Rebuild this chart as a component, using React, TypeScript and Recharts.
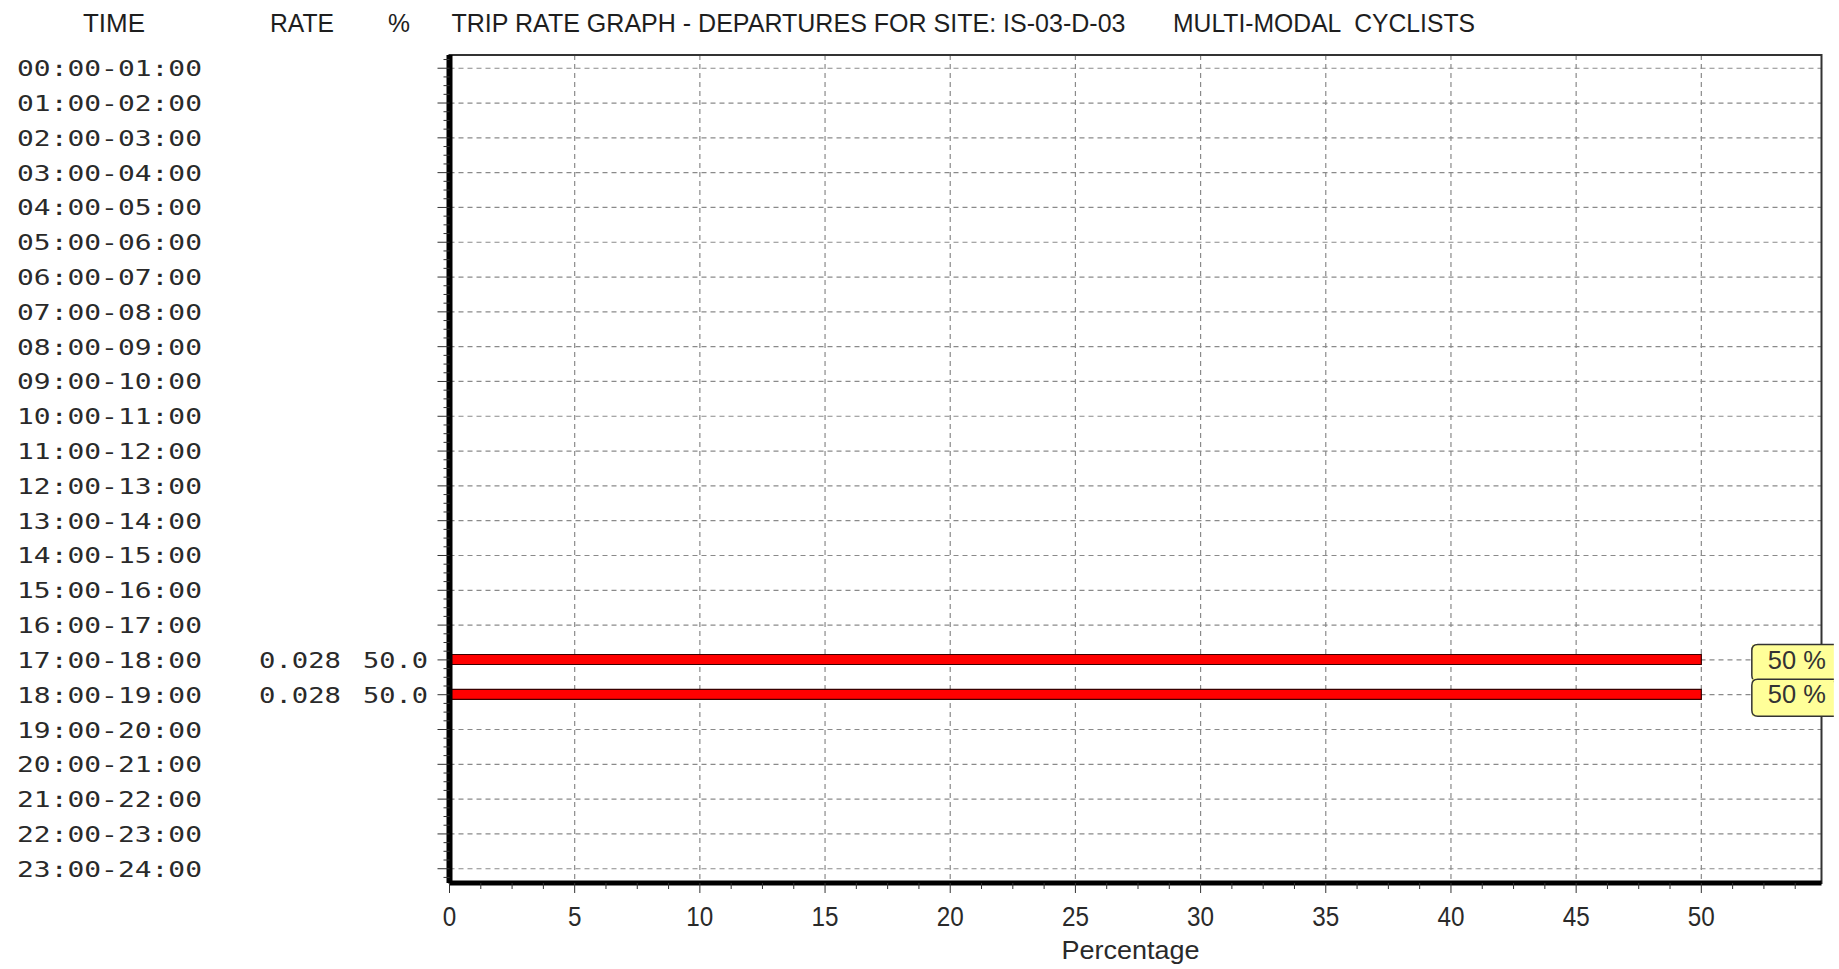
import { Bar, BarChart, CartesianGrid, LabelList, ReferenceArea, XAxis, YAxis } from "recharts";

const timeLabels = [
    "00:00-01:00", "01:00-02:00", "02:00-03:00", "03:00-04:00",
    "04:00-05:00", "05:00-06:00", "06:00-07:00", "07:00-08:00",
    "08:00-09:00", "09:00-10:00", "10:00-11:00", "11:00-12:00",
    "12:00-13:00", "13:00-14:00", "14:00-15:00", "15:00-16:00",
    "16:00-17:00", "17:00-18:00", "18:00-19:00", "19:00-20:00",
    "20:00-21:00", "21:00-22:00", "22:00-23:00", "23:00-24:00",
];

const rates: (number | null)[] = [
    null, null, null, null, null, null, null, null,
    null, null, null, null, null, null, null, null,
    null, 0.028, 0.028, null, null, null, null, null,
];

const percents: (number | null)[] = [
    null, null, null, null, null, null, null, null,
    null, null, null, null, null, null, null, null,
    null, 50.0, 50.0, null, null, null, null, null,
];

const xTicks = [0, 5, 10, 15, 20, 25, 30, 35, 40, 45, 50];
const xMax = 54.8;
const yDomain: [number, number] = [-0.38, 23.41];

const data = timeLabels.map((t, i) => ({
    idx: i,
    time: t,
    rate: rates[i],
    pct: percents[i] ?? 0,
}));

const rowTicks = data.map((d) => d.idx);
// minor ticks: four subdivisions per row / per 5%
const yTicks = [-0.25, ...rowTicks.flatMap((i) => [i, i + 0.25, i + 0.5, i + 0.75])].filter(
    (v) => v <= 23.25
);
const xMinorTicks = xTicks.flatMap((v) => [v, v + 1.25, v + 2.5, v + 3.75]);

const mono = "'DejaVu Sans Mono', 'Liberation Mono', monospace";
const sans = "'Liberation Sans', Arial, sans-serif";

function RowTick(props: any) {
    const { x, y, payload } = props;
    const v: number = payload.value;
    if (!Number.isInteger(v)) {
        return <line x1={x - 6} x2={x} y1={y} y2={y} stroke="#333" strokeWidth={1} />;
    }
    const d = data[v];
    return (
        <g>
            <line x1={x - 12} x2={x} y1={y} y2={y} stroke="#333" strokeWidth={1} />
            <text x={x - 432.5} y={y + 8} fontFamily={mono} fontSize={22} fill="#2a2a2a"
                textLength={185} lengthAdjust="spacingAndGlyphs">
                {d.time}
            </text>
            {d.rate != null && (
                <text x={x - 190.5} y={y + 8} fontFamily={mono} fontSize={22} fill="#2a2a2a"
                    textLength={82} lengthAdjust="spacingAndGlyphs">
                    {d.rate.toFixed(3)}
                </text>
            )}
            {d.rate != null && (
                <text x={x - 86.5} y={y + 8} fontFamily={mono} fontSize={22} fill="#2a2a2a"
                    textLength={65} lengthAdjust="spacingAndGlyphs">
                    {d.pct.toFixed(1)}
                </text>
            )}
        </g>
    );
}

function PctTick(props: any) {
    const { x, y, payload } = props;
    const v: number = payload.value;
    const major = xTicks.includes(v);
    const label = String(v);
    return (
        <g>
            <line x1={x} x2={x} y1={y} y2={y + (major ? 10 : 6)} stroke="#333" strokeWidth={1} />
            {major && (
                <text x={x} y={y + 43} textAnchor="middle" fontFamily={sans} fontSize={27}
                    fill="#2a2a2a" textLength={label.length * 13.5} lengthAdjust="spacingAndGlyphs">
                    {label}
                </text>
            )}
        </g>
    );
}

function PctBox(props: any) {
    const { x, y, width, height, value } = props;
    if (!value) return null;
    const cy = y + height / 2;
    const x0 = x + width + 50.5;
    const x1 = x0 + 82;
    const top = cy - 15;
    const bot = cy + 22;
    const r = 6;
    const d = `M${x1},${top} L${x0 + r},${top} Q${x0},${top} ${x0},${top + r} L${x0},${bot - r} Q${x0},${bot} ${x0 + r},${bot} L${x1},${bot}`;
    return (
        <g>
            <rect x={x0} y={top} width={x1 - x0} height={bot - top} fill="#ffff99" stroke="none" />
            <path d={d} fill="none" stroke="#333" strokeWidth={1.5} />
            <text x={x0 + 16} y={cy + 9} fontFamily={sans} fontSize={25} fill="#333"
                textLength={58} lengthAdjust="spacingAndGlyphs" style={{ whiteSpace: "pre" }}>
                {`${Math.round(value)} %`}
            </text>
        </g>
    );
}

function AxisTitle(props: any) {
    const { viewBox } = props;
    return (
        <text x={viewBox.x + viewBox.width / 2 - 5} y={viewBox.y + 76} textAnchor="middle"
            fontFamily={sans} fontSize={26} fill="#2a2a2a" textLength={138}
            lengthAdjust="spacingAndGlyphs">
            Percentage
        </text>
    );
}

export default function App() {
    return (
        <div style={{ position: "absolute", left: 0, top: 0, width: 1839, height: 969, background: "#fff" }}>
            <BarChart
                width={1839}
                height={969}
                data={data}
                layout="vertical"
                margin={{ top: 55, right: 17.5, bottom: 0, left: 0 }}
            >
                <CartesianGrid
                    horizontalValues={rowTicks}
                    verticalValues={xTicks}
                    stroke="#8a8a8a"
                    strokeWidth={1.2}
                    strokeDasharray="5 4"
                />
                <ReferenceArea
                    x1={0}
                    x2={xMax}
                    y1={yDomain[0]}
                    y2={yDomain[1]}
                    fill="none"
                    stroke="#333"
                    strokeWidth={2}
                />
                <XAxis
                    type="number"
                    domain={[0, xMax]}
                    allowDataOverflow
                    ticks={xMinorTicks}
                    interval={0}
                    height={86}
                    tickSize={0}
                    tickMargin={0}
                    tickLine={false}
                    tick={<PctTick />}
                    axisLine={{ stroke: "#000", strokeWidth: 5 }}
                    label={<AxisTitle />}
                />
                <YAxis
                    type="number"
                    dataKey="idx"
                    domain={yDomain}
                    allowDataOverflow
                    ticks={yTicks}
                    interval={0}
                    width={449.5}
                    tickSize={0}
                    tickMargin={0}
                    tickLine={false}
                    tick={<RowTick />}
                    axisLine={{ stroke: "#000", strokeWidth: 6 }}
                />
                <Bar
                    dataKey="pct"
                    barSize={10}
                    fill="#ff0000"
                    stroke="#3a0000"
                    strokeWidth={1.2}
                    isAnimationActive={false}
                >
                    <LabelList dataKey="pct" content={<PctBox />} />
                </Bar>
            </BarChart>
            <svg width={1839} height={60} style={{ position: "absolute", left: 0, top: 0, pointerEvents: "none" }}>
                <g fontFamily={sans} fontSize={26} fill="#1e1e1e">
                    <text x={83} y={32} textLength={62} lengthAdjust="spacingAndGlyphs">TIME</text>
                    <text x={270} y={32} textLength={64} lengthAdjust="spacingAndGlyphs">RATE</text>
                    <text x={388} y={32} textLength={22} lengthAdjust="spacingAndGlyphs">%</text>
                    <text x={451.5} y={32} textLength={674} lengthAdjust="spacingAndGlyphs">
                        TRIP RATE GRAPH - DEPARTURES FOR SITE: IS-03-D-03
                    </text>
                    <text x={1173} y={32} textLength={302} lengthAdjust="spacingAndGlyphs"
                        style={{ whiteSpace: "pre" }}>
                        {"MULTI-MODAL  CYCLISTS"}
                    </text>
                </g>
            </svg>
        </div>
    );
}
